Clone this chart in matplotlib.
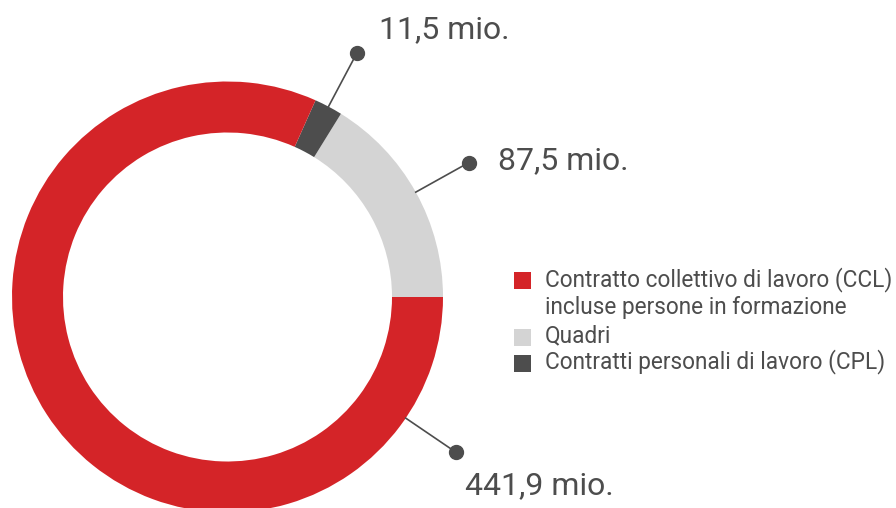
import matplotlib.pyplot as plt
import numpy as np
from matplotlib.patches import Rectangle

# data, order as drawn from 3 o'clock counterclockwise
categories = ['Quadri', 'Contratti personali di lavoro (CPL)',
              'Contratto collettivo di lavoro (CCL)\nincluse persone in formazione']
values = [87.5, 11.5, 441.9]
value_labels = ['87,5 mio.', '11,5 mio.', '441,9 mio.']
colors = ['#d4d4d4', '#4d4d4d', '#d42428']
legend_order = [2, 0, 1]

plt.rcParams['font.family'] = ['Roboto', 'DejaVu Sans']
txt_color = '#4d4d4d'

fig = plt.figure(figsize=(8.96, 5.08), dpi=100)
ax = fig.add_axes([0, 0, 1, 1])

cx, cy, R = 227.5, 211, 215.5
wedges, _ = ax.pie(values, colors=colors, startangle=0, counterclock=True,
                   center=(cx, cy), radius=R, frame=True,
                   wedgeprops=dict(width=51, linewidth=0))
ax.set_xlim(0, 896)
ax.set_ylim(0, 508)
ax.axis('off')

# leader lines with dots
angles = []
for w in wedges:
    angles.append((w.theta1 + w.theta2) / 2)
angles[2] = -34.2  # big slice label put at lower right
r_dot = 276
text_off = [(29, 2), (22, 24), (9, -33)]
for i, a in enumerate(angles):
    t = np.deg2rad(a)
    x0, y0 = cx + R * np.cos(t), cy + R * np.sin(t)
    x1, y1 = cx + r_dot * np.cos(t), cy + r_dot * np.sin(t)
    ax.plot([x0, x1], [y0, y1], color=txt_color, lw=1.2)
    ax.plot(x1, y1, 'o', color=txt_color, ms=10)
    dx, dy = text_off[i]
    ax.text(x1 + dx, y1 + dy, value_labels[i], fontsize=23, color=txt_color,
            va='center', ha='left')

# legend
ys = [228, 171, 145]
for k, i in enumerate(legend_order):
    ax.add_patch(Rectangle((514, ys[k] - 8.5), 17, 17, color=colors[i], lw=0))
    ty = ys[k] + 1
    if '\n' in categories[i]:
        ty = ys[k] - 14 + 1
    ax.text(545, ty, categories[i], fontsize=16.3, color=txt_color,
            va='center', ha='left', linespacing=1.2)

fig.savefig('out.png', dpi=100)
